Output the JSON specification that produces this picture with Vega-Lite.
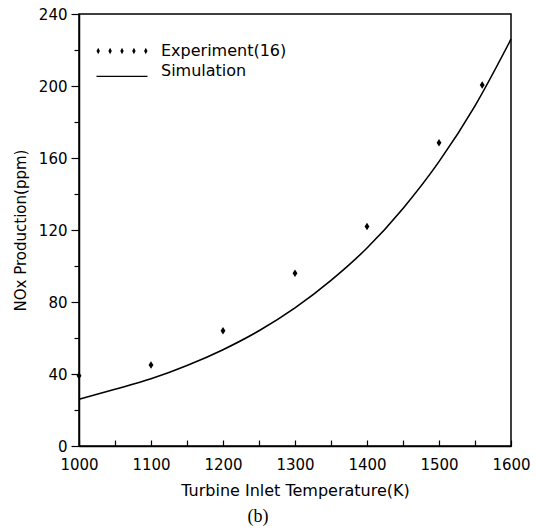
{
  "$schema": "https://vega.github.io/schema/vega-lite/v6.json",
  "width": 432,
  "height": 432,
  "autosize": {"type": "none"},
  "padding": {"left": 79, "top": 14, "right": 25, "bottom": 86},
  "background": "white",
  "config": {
    "view": {"stroke": "black", "strokeWidth": 1.5},
    "font": "DejaVu Sans",
    "axis": {"grid": false, "domainColor": "black", "domainWidth": 1.5, "tickColor": "black", "tickWidth": 1.2, "labelColor": "black", "titleColor": "black", "labelFont": "DejaVu Sans", "titleFont": "DejaVu Sans", "titleFontWeight": "normal", "labelFontSize": 15}
  },
  "title": {"text": "(b)", "orient": "bottom", "font": "Liberation Serif", "fontSize": 18, "fontWeight": "normal", "color": "black", "dx": -37, "offset": 10},
  "data": {
    "values": [
      {"T": 1000, "NOx": 39, "series": "Experiment(16)"},
      {"T": 1100, "NOx": 45, "series": "Experiment(16)"},
      {"T": 1200, "NOx": 64, "series": "Experiment(16)"},
      {"T": 1300, "NOx": 96, "series": "Experiment(16)"},
      {"T": 1400, "NOx": 122, "series": "Experiment(16)"},
      {"T": 1500, "NOx": 168.5, "series": "Experiment(16)"},
      {"T": 1560, "NOx": 200.5, "series": "Experiment(16)"},
      {"T": 1000, "NOx": 26, "series": "Simulation"},
      {"T": 1050, "NOx": 31.5, "series": "Simulation"},
      {"T": 1100, "NOx": 37.3, "series": "Simulation"},
      {"T": 1150, "NOx": 44.7, "series": "Simulation"},
      {"T": 1200, "NOx": 53.5, "series": "Simulation"},
      {"T": 1250, "NOx": 64, "series": "Simulation"},
      {"T": 1300, "NOx": 76.7, "series": "Simulation"},
      {"T": 1350, "NOx": 92, "series": "Simulation"},
      {"T": 1400, "NOx": 110, "series": "Simulation"},
      {"T": 1450, "NOx": 132, "series": "Simulation"},
      {"T": 1500, "NOx": 158, "series": "Simulation"},
      {"T": 1550, "NOx": 189, "series": "Simulation"},
      {"T": 1600, "NOx": 226, "series": "Simulation"}
    ]
  },
  "encoding": {
    "x": {"field": "T", "type": "quantitative", "scale": {"domain": [1000, 1600], "nice": false, "zero": false},
      "axis": {"title": "Turbine Inlet Temperature(K)", "titleFontSize": 16, "values": [1000,1050,1100,1150,1200,1250,1300,1350,1400,1450,1500,1550,1600], "labelExpr": "datum.value % 100 === 0 ? datum.label : ''", "format": "d", "tickSize": -6, "labelPadding": 17, "titlePadding": 10, "labelFlush": false, "labelOverlap": false}},
    "y": {"field": "NOx", "type": "quantitative", "scale": {"domain": [0, 240], "nice": false},
      "axis": {"title": "NOx Production(ppm)", "titleFontSize": 15, "values": [0,20,40,60,80,100,120,140,160,180,200,220,240], "labelExpr": "datum.value % 40 === 0 ? datum.label : ''", "tickSize": {"condition": {"test": "datum.value % 40 === 0", "value": 8}, "value": 5}, "labelPadding": 4, "titlePadding": 10, "labelOverlap": false, "labelFlush": false}}
  },
  "layer": [
    {
      "transform": [{"filter": "datum.series === 'Simulation'"}],
      "mark": {"type": "line", "color": "black", "strokeWidth": 1.6, "interpolate": "monotone"}
    },
    {
      "transform": [{"filter": "datum.series === 'Experiment(16)'"}],
      "mark": {"type": "point", "shape": "M0,-1L0.65,0L0,1L-0.65,0Z", "filled": true, "color": "black", "size": 56, "opacity": 1}
    },
    {
      "mark": {"type": "point", "filled": true, "opacity": 0, "color": "black", "size": 289},
      "encoding": {
        "shape": {"field": "series", "type": "nominal",
          "scale": {"domain": ["Experiment(16)", "Simulation"], "range": ["M-3,0L-2.8,-0.38L-2.6,0L-2.8,0.38ZM-1.6,0L-1.4,-0.38L-1.2,0L-1.4,0.38ZM-0.2,0L0,-0.38L0.2,0L0,0.38ZM1.2,0L1.4,-0.38L1.6,0L1.4,0.38ZM2.6,0L2.8,-0.38L3,0L2.8,0.38Z", "M-3,0.55L3,0.55L3,0.71L-3,0.71Z"]},
          "legend": {"title": null, "orient": "none", "legendX": 34, "legendY": 28, "symbolOpacity": 1, "symbolFillColor": "black", "symbolStrokeColor": "black", "symbolStrokeWidth": 0.5, "symbolSize": 289, "labelFont": "DejaVu Sans", "labelFontSize": 16, "labelColor": "black", "labelOffset": 30, "rowPadding": 3, "labelLimit": 300}
        }
      }
    }
  ]
}
